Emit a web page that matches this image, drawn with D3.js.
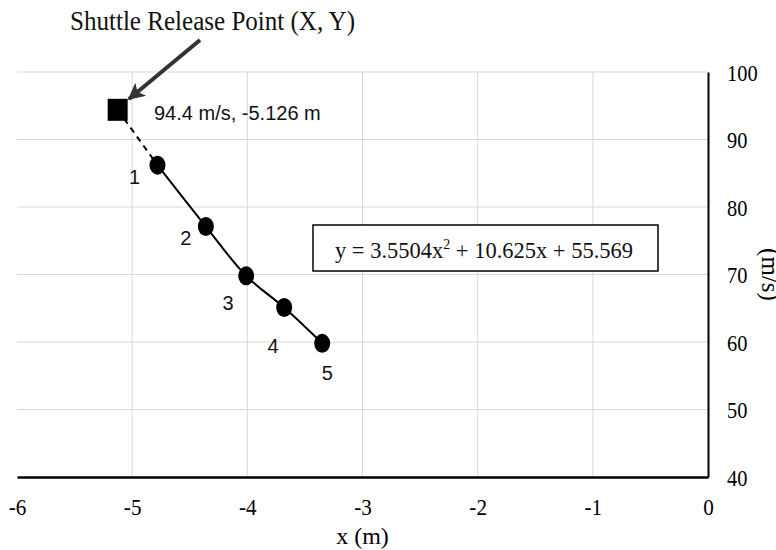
<!DOCTYPE html>
<html><head><meta charset="utf-8">
<script src="https://cdn.jsdelivr.net/npm/d3@7"></script>
<style>html,body{margin:0;padding:0;background:#fff;}svg{display:block;}
.serif text, text.serif{font-family:'Liberation Serif','Times New Roman',serif;}</style>
</head><body>
<script>
// ---- data ----
const pointLabels = ["1", "2", "3", "4", "5"];
const xValues = [-4.78, -4.36, -4.01, -3.68, -3.35];
const yValues = [86.2, 77.1, 69.8, 65.1, 59.8];
const releaseX = [-5.126];
const releaseY = [94.4];
const xTicks = [-6, -5, -4, -3, -2, -1, 0];
const yTicks = [40, 50, 60, 70, 80, 90, 100];
const titleText = "Shuttle Release Point (X, Y)";
const releaseText = "94.4 m/s, -5.126 m";
const xTitle = "x (m)";
const yTitle = "(m/s)";

// ---- layout ----
const W = 776, H = 550;
const labelOffsets = [[-23, 12], [-20, 11], [-18, 27], [-11, 38], [5, 30]];
const x = d3.scaleLinear().domain([-6, 0]).range([17, 708]);
const y = d3.scaleLinear().domain([40, 100]).range([477, 72]);

const svg = d3.select("body").append("svg").attr("width", W).attr("height", H);
const serif = "Liberation Serif";
const sans = "Liberation Sans";

function squeeze(sel, f) {
  sel.each(function () {
    const L = this.getComputedTextLength();
    d3.select(this).attr("textLength", L * f).attr("lengthAdjust", "spacingAndGlyphs");
  });
}

// gridlines
svg.append("g").selectAll("line").data(yTicks.filter(v => v > 40)).join("line")
  .attr("x1", x(-6)).attr("x2", x(0)).attr("y1", d => y(d)).attr("y2", d => y(d))
  .attr("stroke", "#d9d9d9").attr("stroke-width", 1);
svg.append("g").selectAll("line").data(xTicks.filter(v => v > -6 && v < 0)).join("line")
  .attr("x1", d => x(d)).attr("x2", d => x(d)).attr("y1", y(100)).attr("y2", y(40))
  .attr("stroke", "#d9d9d9").attr("stroke-width", 1);

// axes
const xAxis = d3.axisBottom(x).tickValues(xTicks).tickSize(0).tickPadding(22)
  .tickFormat(d => (d < 0 ? "-" : "") + Math.abs(d));
const gx = svg.append("g").attr("class", "serif").attr("transform", `translate(0,${y(40)})`).call(xAxis)
  .attr("font-family", serif).attr("font-size", 24);
gx.select(".domain").attr("stroke", "#000").attr("stroke-width", 2.5);
gx.selectAll("text").attr("font-family", serif).attr("font-size", 24).attr("fill", "#000").attr("dy", "0.65em");
squeeze(gx.selectAll("text"), 0.88);

const yAxis = d3.axisRight(y).tickValues(yTicks).tickSize(0).tickPadding(19);
const gy = svg.append("g").attr("class", "serif").attr("transform", `translate(${x(0)},0)`).call(yAxis)
  .attr("font-family", serif).attr("font-size", 24);
gy.select(".domain").attr("stroke", "#000").attr("stroke-width", 2);
gy.selectAll("text").attr("font-family", serif).attr("font-size", 24).attr("fill", "#000").attr("dy", "0.34em");
squeeze(gy.selectAll("text"), 0.85);

// axis titles
svg.append("text").attr("class", "serif").attr("x", (x(-6) + x(0)) / 2).attr("y", 544).attr("text-anchor", "middle")
  .attr("font-family", serif).attr("font-size", 24).text(xTitle);
svg.append("text").attr("class", "serif").attr("transform", `translate(762,${(y(40) + y(100)) / 2}) rotate(90)`)
  .attr("text-anchor", "middle").attr("font-family", serif).attr("font-size", 25).text(yTitle);

// curve through points (solid) and dashed extension to release point
const pts = xValues.map((v, i) => [x(v), y(yValues[i])]);
svg.append("path").attr("d", d3.line().curve(d3.curveCatmullRom)(pts))
  .attr("fill", "none").attr("stroke", "#000").attr("stroke-width", 2);
svg.append("path").attr("d", d3.line()([[x(releaseX[0]), y(releaseY[0])], pts[0]]))
  .attr("fill", "none").attr("stroke", "#000").attr("stroke-width", 2).attr("stroke-dasharray", "6,5");

// points
svg.append("g").selectAll("ellipse").data(xValues).join("ellipse")
  .attr("cx", d => x(d)).attr("cy", (d, i) => y(yValues[i])).attr("rx", 8).attr("ry", 9.5).attr("fill", "#000");
svg.append("g").selectAll("text").data(pointLabels).join("text")
  .attr("x", (d, i) => x(xValues[i]) + labelOffsets[i][0])
  .attr("y", (d, i) => y(yValues[i]) + labelOffsets[i][1] + 7)
  .attr("text-anchor", "middle").attr("font-family", sans).attr("font-size", 20).attr("fill", "#111").text(d => d);

// release point square
svg.append("g").selectAll("rect").data(releaseX).join("rect")
  .attr("x", d => x(d) - 10).attr("y", (d, i) => y(releaseY[i]) - 11).attr("width", 20).attr("height", 22).attr("fill", "#000");
svg.append("text").attr("x", 154).attr("y", 120).attr("font-family", sans).attr("font-size", 20)
  .attr("fill", "#111").text(releaseText);

// title + arrow
const tt = svg.append("text").attr("class", "serif").attr("x", 70).attr("y", 30).attr("font-family", serif).attr("font-size", 27)
  .attr("fill", "#111").text(titleText);
tt.attr("textLength", 285).attr("lengthAdjust", "spacingAndGlyphs");
const defs = svg.append("defs");
defs.append("marker").attr("id", "ah").attr("viewBox", "0 0 10 10").attr("refX", 9).attr("refY", 5)
  .attr("markerWidth", 20).attr("markerHeight", 17).attr("markerUnits", "userSpaceOnUse").attr("orient", "auto")
  .append("path").attr("d", "M0,0 L10,5 L0,10 L2.5,5 z").attr("fill", "#333");
svg.append("line").attr("x1", 200).attr("y1", 40).attr("x2", 129).attr("y2", 99)
  .attr("stroke", "#333").attr("stroke-width", 4).attr("marker-end", "url(#ah)");

// equation box
svg.append("rect").attr("x", 313).attr("y", 225).attr("width", 345).attr("height", 46)
  .attr("fill", "#fff").attr("stroke", "#000").attr("stroke-width", 1.5);
const eq = svg.append("text").attr("class", "serif").attr("x", 484).attr("y", 258).attr("text-anchor", "middle")
  .attr("font-family", serif).attr("font-size", 24).attr("fill", "#111");
eq.append("tspan").text("y = 3.5504x");
eq.append("tspan").attr("font-size", 15).attr("dy", -9).text("2");
eq.append("tspan").attr("dy", 9).text(" + 10.625x + 55.569");
eq.attr("textLength", 298).attr("lengthAdjust", "spacingAndGlyphs");
</script>
</body></html>
